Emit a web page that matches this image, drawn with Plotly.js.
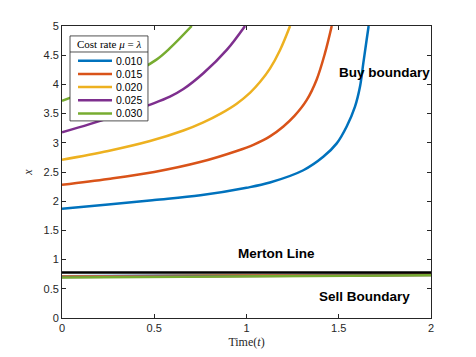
<!DOCTYPE html>
<html>
<head>
<meta charset="utf-8">
<script src="https://cdn.plot.ly/plotly-3.0.1.min.js"></script>
<style>body{margin:0;background:#fff}</style>
</head>
<body>
<div id="graph" style="width:476px;height:357px"></div>
<script>
// buy boundaries, one per cost rate
let costRates = ['0.010', '0.015', '0.020', '0.025', '0.030'];
let colors = ['#0072BD', '#D95319', '#EDB120', '#7E2F8E', '#77AC30'];

let tBuy1 = [0, 0.25, 0.5, 0.75, 1.0, 1.127, 1.308, 1.416, 1.489, 1.543, 1.588, 1.615, 1.633, 1.651, 1.662];
let xBuy1 = [1.87, 1.945, 2.02, 2.10, 2.23, 2.32, 2.53, 2.76, 2.99, 3.28, 3.62, 3.96, 4.36, 4.76, 5.0];
let tBuy2 = [0, 0.25, 0.5, 0.748, 0.947, 1.04, 1.127, 1.2, 1.26, 1.326, 1.38, 1.425, 1.462];
let xBuy2 = [2.28, 2.38, 2.50, 2.67, 2.86, 2.97, 3.11, 3.28, 3.46, 3.73, 4.08, 4.53, 5.0];
let tBuy3 = [0, 0.25, 0.477, 0.658, 0.766, 0.86, 0.947, 1.02, 1.073, 1.127, 1.182, 1.236];
let xBuy3 = [2.71, 2.86, 3.03, 3.21, 3.35, 3.50, 3.67, 3.86, 4.04, 4.27, 4.59, 5.0];
let tBuy4 = [0, 0.15, 0.35, 0.5, 0.585, 0.658, 0.766, 0.893, 0.992];
let xBuy4 = [3.18, 3.32, 3.52, 3.68, 3.79, 3.92, 4.19, 4.59, 5.0];
let tBuy5 = [0, 0.17, 0.35, 0.51, 0.585, 0.703];
let xBuy5 = [3.72, 3.92, 4.14, 4.42, 4.62, 5.0];

// sell boundaries
let tSell = [0, 1, 2];
let xSell1 = [0.715, 0.73, 0.75];
let xSell2 = [0.71, 0.725, 0.745];
let xSell3 = [0.705, 0.72, 0.74];
let xSell4 = [0.70, 0.715, 0.735];
let xSell5 = [0.695, 0.71, 0.73];

// merton line
let tMerton = [0, 2];
let xMerton = [0.78, 0.78];

let tBuy = [tBuy1, tBuy2, tBuy3, tBuy4, tBuy5];
let xBuy = [xBuy1, xBuy2, xBuy3, xBuy4, xBuy5];
let xSell = [xSell1, xSell2, xSell3, xSell4, xSell5];

let traces = [];
for (let i = 0; i < 5; i++) {
    traces.push({
        type: 'scatter', mode: 'lines',
        x: tBuy[i], y: xBuy[i],
        name: costRates[i], showlegend: false,
        line: {color: colors[i], width: 2.5, shape: 'spline', smoothing: 1}
    });
}
for (let i = 0; i < 5; i++) {
    traces.push({
        type: 'scatter', mode: 'lines',
        x: tSell, y: xSell[i],
        showlegend: false,
        line: {color: colors[i], width: 2.5}
    });
}
traces.push({
    type: 'scatter', mode: 'lines',
    x: tMerton, y: xMerton,
    showlegend: false,
    line: {color: '#000000', width: 2.5}
});

let axisStyle = {
    showline: true, mirror: 'ticks', linecolor: '#262626', linewidth: 0.8,
    ticks: 'inside', ticklen: 4, tickcolor: '#262626', showgrid: false, zeroline: false,
    tickfont: {family: 'Liberation Sans, Arial', size: 11, color: '#262626'}
};

// legend box drawn by hand (MATLAB style, tight rows)
let lgLeft = 0.0217, lgRight = 0.233, lgTop = 0.966, lgBottom = 0.675;
let shapes = [
    {type: 'rect', xref: 'paper', yref: 'paper', x0: lgLeft, x1: lgRight, y0: lgBottom, y1: lgTop,
        fillcolor: 'rgb(255,255,255)', opacity: 1, line: {color: '#262626', width: 0.8}, layer: 'above'},
    {type: 'line', xref: 'paper', yref: 'paper', x0: lgLeft, x1: lgRight, y0: 0.911, y1: 0.911,
        line: {color: '#262626', width: 0.8}, layer: 'above'}
];
let annotations = [
    {xref: 'paper', yref: 'paper', x: 0.1274, y: 0.938, xanchor: 'center', yanchor: 'middle',
        text: 'Cost rate <i>μ</i> = <i>λ</i>',
        showarrow: false, font: {family: 'Liberation Serif, DejaVu Serif', size: 11, color: '#000'}}
];
for (let i = 0; i < 5; i++) {
    let yy = 0.8812 - i * 0.0452;
    shapes.push({type: 'line', xref: 'paper', yref: 'paper', x0: 0.0434, x1: 0.1355, y0: yy, y1: yy,
        line: {color: colors[i], width: 2.5}, layer: 'above'});
    annotations.push({xref: 'paper', yref: 'paper', x: 0.141, y: yy, xanchor: 'left', yanchor: 'middle',
        text: costRates[i], showarrow: false,
        font: {family: 'Liberation Sans, Arial', size: 10.5, color: '#000'}});
}

annotations.push(
    {x: 1.75, y: 4.21, text: '<b>Buy boundary</b>', showarrow: false,
        font: {family: 'Liberation Sans, Arial', size: 13.5, color: '#000'}},
    {x: 1.165, y: 1.10, text: '<b>Merton Line</b>', showarrow: false,
        font: {family: 'Liberation Sans, Arial', size: 13.5, color: '#000'}},
    {x: 1.64, y: 0.36, text: '<b>Sell Boundary</b>', showarrow: false,
        font: {family: 'Liberation Sans, Arial', size: 13.5, color: '#000'}}
);

let layout = {
    width: 476, height: 357,
    margin: {l: 62, r: 45, t: 26, b: 39},
    paper_bgcolor: '#fff', plot_bgcolor: '#fff',
    showlegend: false,
    xaxis: Object.assign({}, axisStyle, {
        range: [0, 2], dtick: 0.5,
        title: {text: 'Time(<i>t</i>)', standoff: 4,
            font: {family: 'Liberation Serif, DejaVu Serif', size: 12, color: '#262626'}}
    }),
    yaxis: Object.assign({}, axisStyle, {
        range: [0, 5], dtick: 0.5,
        title: {text: '<i>x</i>', standoff: 8,
            font: {family: 'Liberation Serif, DejaVu Serif', size: 12, color: '#262626'}}
    }),
    shapes: shapes,
    annotations: annotations
};

Plotly.newPlot('graph', traces, layout, {displayModeBar: false});
</script>
</body>
</html>
